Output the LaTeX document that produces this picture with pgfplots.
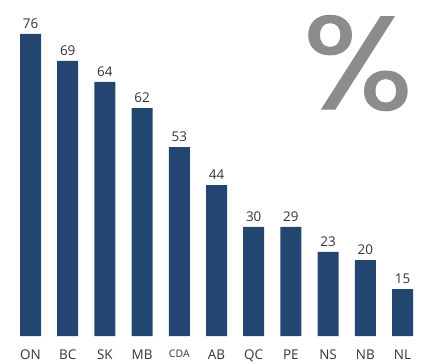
\documentclass[border=0pt]{standalone}
\usepackage{fontspec}
\setmainfont{Open Sans}
\newfontfamily\pctfont[FakeBold=0.8]{Poppins}
\usepackage{pgfplots}
\usepackage{pgfplotstable}
\pgfplotsset{compat=1.18}
\definecolor{barblue}{HTML}{22466F}
\definecolor{txt}{HTML}{333333}
\definecolor{pct}{HTML}{8C8C8C}
\pgfplotstableread{
x y lab
0 76.1 76
1 69.3 69
2 64.0 64
3 57.4 62
4 47.6 53
5 38.0 44
6 27.5 30
7 27.5 29
8 21.2 23
9 19.1 20
10 11.8 15
}\data
\begin{document}
\begin{tikzpicture}
\begin{axis}[
  scale only axis, width=428bp, height=336bp,
  xmin=-0.82, xmax=10.685, ymin=0, ymax=84.63,
  axis line style={draw=none}, ytick=\empty,
  xtick={0,...,10}, major tick length=0pt,
  xticklabels={ON,BC,SK,MB,{\raisebox{2bp}{\fontsize{10.5}{12}\selectfont CDA}},AB,QC,PE,NS,NB,NL},
  xticklabel style={font=\fontsize{13.5}{16}\selectfont, text=txt, yshift=-10bp},
  ybar, bar width=21bp,
  nodes near coords, point meta=explicit symbolic,
  nodes near coords style={font=\fontsize{13.5}{16}\selectfont, text=txt, yshift=2bp},
  clip=false,
]
\addplot[fill=barblue, draw=none] table[x=x, y=y, meta=lab] {\data};
\end{axis}
\node[text=pct, font=\pctfont\fontsize{133}{140}\selectfont, inner sep=0pt, xscale=1.1] at (358bp,273bp) {\%};
\pgfresetboundingbox
\path (0,-28bp) rectangle (428bp,336bp);
\end{tikzpicture}
\end{document}
